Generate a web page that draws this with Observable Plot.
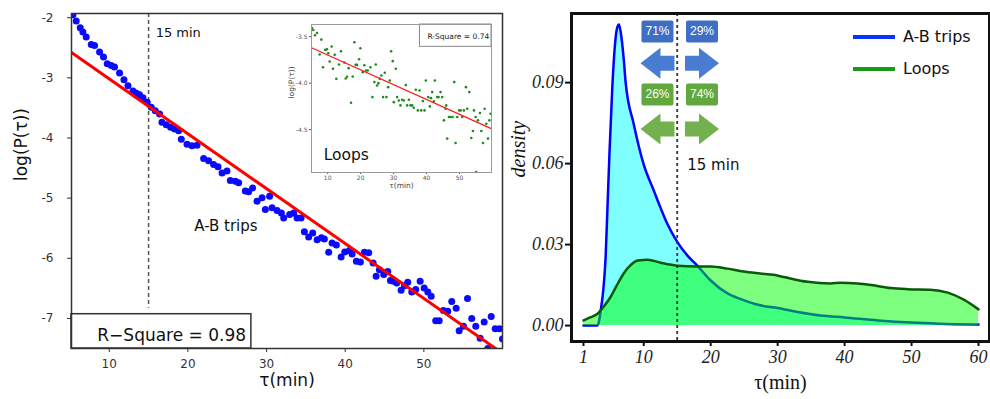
<!DOCTYPE html>
<html>
<head>
<meta charset="utf-8">
<script src="https://cdn.jsdelivr.net/npm/d3@7"></script>
<script src="https://cdn.jsdelivr.net/npm/@observablehq/plot@0.6"></script>
<style>
  html, body { margin: 0; padding: 0; background: white; }
  #wrap { position: relative; width: 990px; height: 399px; overflow: hidden; background: white; }
  #wrap > * { position: absolute; }
  .leg { font-family: "DejaVu Sans", sans-serif; font-size: 16px; color: #111; display: flex; align-items: center; }
  .leg span.sw { display: inline-block; width: 42px; height: 4px; margin-right: 8px; }
</style>
</head>
<body>
<div id="wrap"></div>
<script>
// ---------- Left panel: A-B trips, log(P(tau)) vs tau ----------
const abTau = [5.38,5.80,6.31,6.65,7.07,7.71,8.13,8.77,9.27,9.75,10.25,10.67,11.31,11.87,12.38,13.02,13.44,13.85,14.29,14.83,15.34,15.85,16.40,16.70,17.25,17.80,18.31,18.82,19.16,19.89,20.52,21.16,22.00,22.63,23.27,23.83,24.34,24.97,25.39,26.03,26.45,27.30,27.72,28.23,28.79,29.43,29.85,30.39,30.70,31.34,31.88,32.18,32.94,33.45,33.88,34.39,34.81,35.36,35.87,36.43,36.97,37.35,37.90,38.33,38.88,39.48,39.94,40.53,40.88,41.42,41.93,42.44,42.99,43.55,43.93,44.35,44.90,45.41,45.75,46.13,46.55,47.11,47.53,47.95,48.46,48.97,49.53,50.04,50.50,50.93,51.51,51.95,52.49,53.04,53.55,54.11,54.49,55.04,55.55,56.09,56.60,57.16,57.67,58.13,58.56,59.07,59.62,60.00];
const abLogP = [-1.95,-2.055,-2.167,-2.238,-2.32,-2.445,-2.46,-2.57,-2.655,-2.767,-2.795,-2.82,-2.92,-3.03,-3.13,-3.22,-3.255,-3.28,-3.33,-3.405,-3.49,-3.545,-3.60,-3.74,-3.78,-3.82,-3.85,-3.88,-4.02,-4.105,-4.13,-4.12,-4.34,-4.38,-4.44,-4.48,-4.58,-4.55,-4.705,-4.72,-4.745,-4.88,-4.895,-4.83,-5.05,-4.995,-5.19,-4.97,-5.16,-5.205,-5.245,-5.33,-5.27,-5.245,-5.33,-5.33,-5.56,-5.645,-5.58,-5.69,-5.66,-5.68,-5.90,-5.745,-5.78,-5.98,-5.895,-5.87,-5.93,-6.05,-6.06,-5.90,-5.91,-6.08,-6.30,-6.19,-6.27,-6.22,-6.37,-6.38,-6.41,-6.53,-6.455,-6.40,-6.56,-6.52,-6.38,-6.495,-6.56,-6.63,-7.04,-7.04,-6.87,-6.88,-6.72,-6.83,-7.205,-7.13,-6.67,-7.00,-7.13,-7.33,-7.06,-7.50,-6.97,-7.17,-7.17,-7.34];
const abFitTau = [5.2, 60];
const abFitLogP = [-2.58, -7.58];
const abRSquare = "R\u2212Square = 0.98";

// ---------- Inset: Loops ----------
const loopTau = [5.24,5.64,6.15,6.76,8.07,7.57,8.58,9.29,9.80,10.20,10.61,11.22,11.62,12.13,12.63,13.44,14.05,15.07,15.47,15.88,16.38,17.09,17.60,18.11,18.51,18.92,19.52,19.93,20.64,21.14,21.65,22.16,22.97,23.58,24.18,24.59,25.00,25.40,25.81,26.31,26.82,27.33,27.83,28.34,28.84,29.25,29.76,30.06,30.67,31.07,31.58,32.09,32.59,33.10,33.71,34.11,34.62,35.13,35.63,36.14,36.75,37.36,37.86,38.37,38.88,39.38,39.79,40.50,41.00,41.31,41.71,42.22,42.52,43.23,43.64,44.25,44.75,45.26,45.76,45.97,46.27,46.78,47.28,47.89,48.40,48.80,49.31,49.92,50.33,50.83,51.34,51.95,52.35,52.96,53.57,54.07,54.38,54.88,55.59,56.20,56.61,57.11,57.62,58.13,58.63,59.04,59.44,55.09];
const loopLogP = [-3.407,-3.429,-3.486,-3.461,-3.532,-3.693,-3.829,-3.643,-3.636,-3.679,-3.768,-3.607,-3.846,-3.696,-3.954,-3.80,-3.657,-3.779,-3.95,-3.932,-3.839,-4.211,-3.929,-3.561,-3.804,-3.804,-3.743,-3.625,-3.882,-3.807,-3.864,-3.864,-3.829,-4.15,-3.989,-3.80,-4.025,-4.0,-3.954,-3.918,-4.15,-3.889,-4.15,-4.043,-3.971,-3.657,-3.764,-4.204,-3.846,-4.15,-4.186,-4.239,-4.179,-4.186,-4.021,-4.239,-4.179,-4.239,-4.239,-4.264,-4.071,-4.293,-4.079,-4.293,-4.193,-4.293,-3.971,-4.15,-4.25,-4.161,-4.096,-4.196,-3.971,-4.15,-4.15,-4.096,-4.15,-4.40,-4.275,-4.239,-4.596,-4.364,-4.364,-4.364,-3.989,-4.643,-4.364,-4.293,-4.293,-4.364,-4.293,-4.043,-4.275,-4.096,-4.589,-4.514,-4.293,-4.364,-4.40,-4.321,-4.514,-4.643,-4.275,-4.436,-4.596,-4.40,-4.329,-4.954];
const loopFitTau = [5.1, 59.7];
const loopFitLogP = [-3.62, -4.49];
const loopRSquare = "R-Square = 0.74";

// ---------- Right panel: densities ----------
const abDensTau = [1,2,3,3.2,3.6,3.95,4.3,4.6,4.9,5.3,5.7,6.0,6.3,6.6,7.0,7.3,8.5,10,11.5,12.5,13.5,15,16.5,18,20,22.5,24.5,27.4,30,33,36.4,40,45,50,54,60];
const abDens    = [0,0,0,0.0005,0.006,0.013,0.025,0.045,0.065,0.088,0.104,0.110,0.1115,0.108,0.099,0.090,0.0747,0.0596,0.050,0.0437,0.0378,0.031,0.026,0.0222,0.0167,0.0119,0.0098,0.0075,0.0065,0.005,0.0037,0.003,0.0019,0.0011,0.0007,0.0004];
const loopDensTau = [1,2,3.1,4,5,6,7,8,9.1,10.6,12.5,15,18,20,22.5,24.9,27.4,29.4,30.9,34.5,37.9,39.4,41.9,44,46.9,49.4,52.8,55.4,57.8,60];
const loopDens    = [0.0019,0.003,0.0044,0.007,0.0104,0.015,0.0193,0.0223,0.0241,0.0244,0.0233,0.0222,0.0219,0.0219,0.0211,0.0200,0.0193,0.0188,0.0180,0.0162,0.0156,0.0159,0.0156,0.0150,0.0139,0.0135,0.0133,0.0122,0.0096,0.0060];
const seriesNames = ["A-B trips", "Loops"];
const badgeLabels = [["71%", "29%"], ["26%", "74%"]];   // rows: A-B trips, Loops ; cols: <15, >15 min
const badgeTau = [12.05, 18.7];
const badgeDens = [0.1089, 0.0856];
const arrowDens = [0.0972, 0.0728];
const thresholdMin = 15;

// ---------- helpers ----------
const zip2 = (a, b, kx, ky) => a.map((v, i) => ({[kx]: v, [ky]: b[i]}));
const abPts = zip2(abTau, abLogP, "tau", "v");
const abFit = zip2(abFitTau, abFitLogP, "tau", "v");
const loopPts = zip2(loopTau, loopLogP, "tau", "v");
const loopFit = zip2(loopFitTau, loopFitLogP, "tau", "v");
const abD = zip2(abDensTau, abDens, "tau", "d");
const lpD = zip2(loopDensTau, loopDens, "tau", "d");

const wrap = document.getElementById("wrap");

// ===== LEFT PANEL =====
const left = Plot.plot({
  width: 510, height: 399,
  marginLeft: 71, marginRight: 8, marginTop: 13, marginBottom: 51,
  style: {background: "transparent", fontFamily: "DejaVu Sans, sans-serif", fontSize: "12px", color: "#333", overflow: "visible"},
  x: {domain: [5.2, 60], ticks: [10, 20, 30, 40, 50], tickSize: 4, tickPadding: 7, label: null},
  y: {domain: [-7.5, -1.93], ticks: [-7, -6, -5, -4, -3, -2], tickSize: 4, tickPadding: 14, tickFormat: d => String(d), label: null},
  marks: [
    Plot.frame({fill: "white"}),
    Plot.ruleX([thresholdMin], {y1: -1.93, y2: -6.83, stroke: "#555", strokeWidth: 1.5, strokeDasharray: "4,3"}),
    Plot.dot(abPts, {x: "tau", y: "v", r: 3.5, fill: "#0a0aff", clip: true}),
    Plot.line(abFit, {x: "tau", y: "v", stroke: "#ff0000", strokeWidth: 3, clip: true}),
    Plot.rect([abRSquare], {x1: 5.2, x2: 28.07, y1: -7.5, y2: -6.93, fill: "white", stroke: "#333", strokeWidth: 1.5}),
    Plot.text([abRSquare], {x: 27.4, y: -7.29, text: d => d, textAnchor: "end", fontSize: 17, fill: "#111"}),
    Plot.text(["15 min"], {x: 15.9, y: -2.25, text: d => d, textAnchor: "start", fontSize: 13, fill: "#111"}),
    Plot.text([seriesNames[0]], {x: 20.8, y: -5.47, text: d => d, textAnchor: "start", fontSize: 15, fill: "#111"}),
    Plot.frame({stroke: "#333", strokeWidth: 1.5}),
    Plot.text(["log(P(\u03c4))"], {frameAnchor: "left", rotate: -90, dx: -50, text: d => d, fontSize: 17, fill: "#111"}),
    Plot.text(["\u03c4(min)"], {frameAnchor: "bottom", dy: 37, text: d => d, fontSize: 17, fill: "#111"})
  ]
});
left.style.left = "0px"; left.style.top = "0px";
wrap.appendChild(left);

// ===== INSET =====
const inset = Plot.plot({
  width: 215, height: 180,
  marginLeft: 31, marginRight: 4, marginTop: 10, marginBottom: 22,
  style: {background: "transparent", fontFamily: "DejaVu Sans, sans-serif", fontSize: "6px", color: "#555", overflow: "visible"},
  x: {domain: [5.1, 59.7], ticks: [10, 20, 30, 40, 50], tickSize: 2, tickPadding: 1, label: null},
  y: {domain: [-4.96, -3.37], ticks: [-3.5, -4, -4.5], tickSize: 2, tickPadding: 2, tickFormat: d => d.toFixed(1), label: null},
  marks: [
    Plot.frame({fill: "white"}),
    Plot.dot(loopPts, {x: "tau", y: "v", r: 1.3, fill: "#1e8a1e", clip: true}),
    Plot.line(loopFit, {x: "tau", y: "v", stroke: "#ff1a1a", strokeWidth: 1.3, clip: true}),
    Plot.rect([loopRSquare], {x1: 38, x2: 59.7, y1: -3.61, y2: -3.37, fill: "white", stroke: "#888", strokeWidth: 1}),
    Plot.text([loopRSquare], {x: 59.0, y: -3.5, text: d => d, textAnchor: "end", fontSize: 7.5, fill: "#222"}),
    Plot.text([seriesNames[1]], {x: 8.8, y: -4.775, text: d => d, textAnchor: "start", fontSize: 15.5, fill: "#111"}),
    Plot.frame({stroke: "#999", strokeWidth: 1}),
    Plot.text(["log(P(\u03c4))"], {frameAnchor: "left", rotate: -90, dx: -20, text: d => d, fontSize: 7.5, fill: "#444"}),
    Plot.text(["\u03c4(min)"], {frameAnchor: "bottom", dy: 15, text: d => d, fontSize: 7.5, fill: "#444"})
  ]
});
inset.style.left = "280px"; inset.style.top = "14px";
wrap.appendChild(inset);

// ===== RIGHT PANEL =====
const roundRect = {draw(ctx) {
  const w = 16, h = 11, r = 2;
  ctx.moveTo(-w + r, -h); ctx.lineTo(w - r, -h); ctx.arcTo(w, -h, w, -h + r, r);
  ctx.lineTo(w, h - r); ctx.arcTo(w, h, w - r, h, r);
  ctx.lineTo(-w + r, h); ctx.arcTo(-w, h, -w, h - r, r);
  ctx.lineTo(-w, -h + r); ctx.arcTo(-w, -h, -w + r, -h, r); ctx.closePath();
}};
const leftArrow = {draw(ctx) {
  ctx.moveTo(-17, 0); ctx.lineTo(3, -15.5); ctx.lineTo(3, -7.5); ctx.lineTo(17, -7.5);
  ctx.lineTo(17, 7.5); ctx.lineTo(3, 7.5); ctx.lineTo(3, 15.5); ctx.closePath();
}};
const rightArrow = {draw(ctx) {
  ctx.moveTo(17, 0); ctx.lineTo(-3, -15.5); ctx.lineTo(-3, -7.5); ctx.lineTo(-17, -7.5);
  ctx.lineTo(-17, 7.5); ctx.lineTo(-3, 7.5); ctx.lineTo(-3, 15.5); ctx.closePath();
}};
const badgeColors = ["#3e6fc4", "#62a83e"];
const arrowColors = ["#4a7dd2", "#72b14e"];
const badges = [];
badgeLabels.forEach((row, i) => row.forEach((lab, j) => badges.push({tau: badgeTau[j], d: badgeDens[i], ad: arrowDens[i], label: lab, row: i, side: j})));

const right = Plot.plot({
  width: 480, height: 399,
  marginLeft: 61, marginRight: 1, marginTop: 13, marginBottom: 58,
  style: {background: "transparent", fontFamily: "Liberation Serif, serif", fontStyle: "italic", fontSize: "18px", color: "#222", overflow: "visible"},
  x: {domain: [-0.79, 61.64], ticks: [1, 10, 20, 30, 40, 50, 60], tickSize: 5, tickPadding: 4, label: null},
  y: {domain: [-0.0059, 0.1156], ticks: [0, 0.03, 0.06, 0.09], tickFormat: d => d.toFixed(2), tickSize: 6, tickPadding: 2, label: null},
  marks: [
    Plot.frame({fill: "white"}),
    Plot.areaY(abD, {x: "tau", y: "d", fill: "#00ffff", fillOpacity: 0.5, curve: "monotone-x"}),
    Plot.line(abD, {x: "tau", y: "d", stroke: "#0000ff", strokeWidth: 2.5, curve: "monotone-x"}),
    Plot.areaY(lpD, {x: "tau", y: "d", fill: "#00ff00", fillOpacity: 0.5, curve: "monotone-x"}),
    Plot.line(lpD, {x: "tau", y: "d", stroke: "#0a5a0a", strokeWidth: 2.5, curve: "monotone-x"}),
    Plot.ruleX([thresholdMin], {stroke: "#333", strokeWidth: 1.8, strokeDasharray: "3,3"}),
    Plot.dot(badges, {x: "tau", y: "d", symbol: roundRect, fill: d => badgeColors[d.row], stroke: "none"}),
    Plot.dot(badges, {x: "tau", y: "ad", symbol: d => d.side === 0 ? leftArrow : rightArrow, fill: d => arrowColors[d.row], stroke: "none"}),
    Plot.text(badges, {x: "tau", y: "d", text: "label", fill: "white", fontFamily: "Liberation Sans, sans-serif", fontStyle: "normal", fontSize: 12}),
    Plot.text(["15 min"], {x: 16.5, y: 0.0593, text: d => d, textAnchor: "start", fontFamily: "DejaVu Sans, sans-serif", fontStyle: "normal", fontSize: 15, fill: "#111"}),
    Plot.frame({stroke: "#111", strokeWidth: 3}),
    Plot.text(["density"], {frameAnchor: "left", rotate: -90, dx: -53, text: d => d, fontSize: 20, fill: "#111"}),
    Plot.text(["\u03c4(min)"], {frameAnchor: "bottom", dy: 47, text: d => d, fontStyle: "normal", fontSize: 20, fill: "#111"})
  ]
});
right.style.left = "510px"; right.style.top = "0px";
wrap.appendChild(right);

// thicken right-panel tick marks
d3.select(right).selectAll('g[aria-label$="tick"] path, g[aria-label="x-axis"] line, g[aria-label="y-axis"] line')
  .attr("stroke-width", 2).attr("stroke", "#111");

// legend (right panel)
const legendColors = ["#0a32ff", "#1a9a1a"];
seriesNames.forEach((name, i) => {
  const div = document.createElement("div");
  div.className = "leg";
  div.style.left = "853px";
  div.style.top = (27 + i * 32) + "px";
  div.innerHTML = `<span class="sw" style="background:${legendColors[i]}"></span><span>${name}</span>`;
  wrap.appendChild(div);
});
</script>
</body>
</html>
